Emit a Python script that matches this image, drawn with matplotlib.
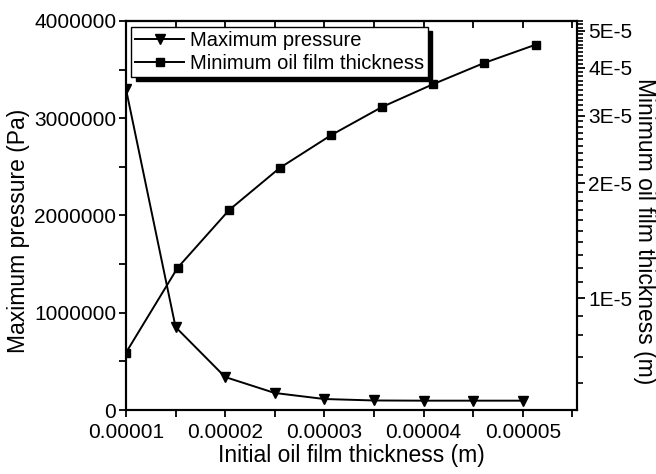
import numpy as np
import matplotlib
matplotlib.use("Agg")
import matplotlib.pyplot as plt
from matplotlib.ticker import MultipleLocator, FuncFormatter, NullFormatter

plt.rcParams['font.family'] = ['Liberation Sans', 'DejaVu Sans']

# maximum pressure vs initial oil film thickness
x_pressure = [1.0e-5, 1.5e-5, 2.0e-5, 2.5e-5, 3.0e-5, 3.5e-5, 4.0e-5, 4.5e-5, 5.0e-5]
max_pressure = [3300000, 853000, 339000, 175000, 113000, 98000, 96000, 96000, 96000]

# minimum oil film thickness (log axis)
x_film = [1.0e-5, 1.52e-5, 2.04e-5, 2.55e-5, 3.07e-5, 3.58e-5, 4.1e-5, 4.61e-5, 5.13e-5]
min_film = [7.2e-6, 1.2e-5, 1.7e-5, 2.19e-5, 2.67e-5, 3.16e-5, 3.63e-5, 4.12e-5, 4.6e-5]

x_ticks = [1e-5, 2e-5, 3e-5, 4e-5, 5e-5]
x_ticklabels = ['0.00001', '0.00002', '0.00003', '0.00004', '0.00005']
right_ticks = [1e-5, 2e-5, 3e-5, 4e-5, 5e-5]
right_ticklabels = ['1E-5', '2E-5', '3E-5', '4E-5', '5E-5']

TICK_FS = 15
LABEL_FS = 16.5

fig = plt.figure(figsize=(6.56, 4.74), dpi=100)
ax = fig.add_axes([0.192, 0.135, 0.688, 0.821])
ax2 = ax.twinx()

l1, = ax.plot(x_pressure, max_pressure, color='black', lw=1.4, marker='v', ms=7,
              label='Maximum pressure')
l2, = ax2.plot(x_film, min_film, color='black', lw=1.4, marker='s', ms=5.5,
               label='Minimum oil film thickness')

ax.set_xlim(1e-5, 5.55e-5)
ax.set_ylim(0, 4000000)
ax.set_xticks(x_ticks)
ax.set_xticklabels(x_ticklabels)
ax.xaxis.set_minor_locator(MultipleLocator(0.5e-5))
ax.yaxis.set_major_locator(MultipleLocator(1000000))
ax.yaxis.set_minor_locator(MultipleLocator(500000))
ax.yaxis.set_major_formatter(FuncFormatter(lambda v, p: '%d' % v))

ax2.set_yscale('log')
ax2.set_ylim(5.1e-6, 5.31e-5)
ax2.set_yticks(right_ticks)
ax2.set_yticklabels(right_ticklabels)
minor_right = [round(k * 1e-6, 12) for k in range(6, 54) if k % 10 != 0]
ax2.set_yticks(minor_right, minor=True)
ax2.yaxis.set_minor_formatter(NullFormatter())

for a in (ax, ax2):
    for s in a.spines.values():
        s.set_linewidth(1.5)

ax.tick_params(axis='x', which='both', direction='out', top=False, labelsize=TICK_FS, width=1.3, length=5, pad=4)
ax.tick_params(axis='y', which='both', direction='out', labelsize=TICK_FS, width=1.3, length=5, pad=2)
ax2.tick_params(axis='y', which='major', direction='out', length=6, width=1.3, labelsize=TICK_FS, pad=2)
ax2.tick_params(axis='y', which='minor', direction='out', length=4, width=1.2, right=True)

# top ticks point inward
sec = ax.secondary_xaxis('top')
sec.set_xticks(x_ticks)
sec.xaxis.set_minor_locator(MultipleLocator(0.5e-5))
sec.tick_params(which='both', direction='in', labeltop=False, width=1.3, length=5)
sec.spines['top'].set_linewidth(1.5)

ax.set_xlabel('Initial oil film thickness (m)', fontsize=LABEL_FS, labelpad=2)
ax.set_ylabel('Maximum pressure (Pa)', fontsize=LABEL_FS, va='center')
ax.yaxis.set_label_coords(-0.237, 0.46)
ax2.set_ylabel('Minimum oil film thickness (m)', fontsize=LABEL_FS, rotation=270, va='center')
ax2.yaxis.set_label_coords(1.15, 0.46)

leg = ax2.legend(handles=[l1, l2], loc='upper left', bbox_to_anchor=(0.012, 0.985),
                 fontsize=14.5, fancybox=False, edgecolor='black', framealpha=1,
                 borderaxespad=0, handlelength=2.4, handletextpad=0.3,
                 borderpad=0.2, labelspacing=0.22,
                 shadow={'color': 'black', 'alpha': 1, 'ox': 3, 'oy': -3})
leg.get_frame().set_linewidth(1.0)

fig.savefig('out.png', dpi=100)
